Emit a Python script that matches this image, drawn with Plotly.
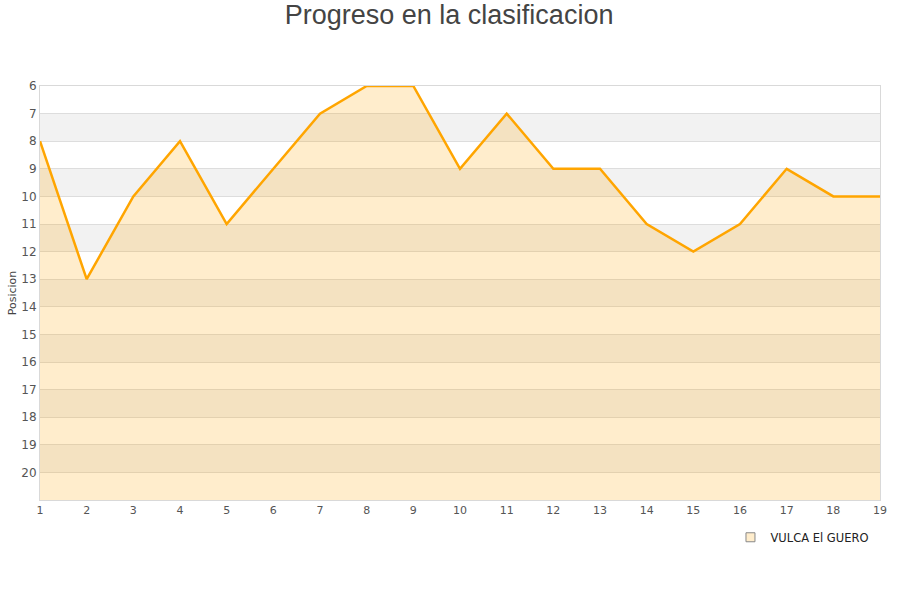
import plotly.graph_objects as go

jornadas = list(range(1, 20))
posiciones = [8, 13, 10, 8, 11, 9, 7, 6, 6, 9, 7, 9, 9, 11, 12, 11, 9, 10, 10]
equipo = "VULCA El GUERO"
y_ticks = list(range(6, 21))
y_bottom = 21
y_top = 6

fig = go.Figure()

# alternating bands
for v in range(7, 21, 2):
    fig.add_shape(type="rect", xref="paper", x0=0, x1=1, yref="y", y0=v, y1=v + 1,
                  fillcolor="#f2f2f2", line_width=0, layer="below")

fig.add_trace(go.Scatter(x=jornadas, y=[y_bottom] * len(jornadas), mode="lines",
                         line=dict(width=0), showlegend=False, hoverinfo="skip"))
fig.add_trace(go.Scatter(x=jornadas, y=posiciones, mode="lines", fill="tonexty",
                         fillcolor="rgba(255,165,0,0.2)",
                         line=dict(color="#ffa500", width=2.5), showlegend=False, name=equipo))
fig.add_trace(go.Scatter(x=[None], y=[None], mode="markers", name=equipo,
                         marker=dict(symbol="square", size=9, color="#ffedcc",
                                     line=dict(color="#888", width=1))))

fig.update_layout(
    width=900, height=600,
    paper_bgcolor="white", plot_bgcolor="white",
    margin=dict(l=40, r=20, t=86, b=100, autoexpand=False),
    title=dict(text="Progreso en la clasificacion", x=0.499, xanchor="center", y=0.975, yanchor="middle",
               font=dict(family="Liberation Sans, Arial, sans-serif", size=27, color="#444")),
    font=dict(family="DejaVu Sans, sans-serif", color="#555"),
    legend=dict(x=0.822, xanchor="left", y=-0.09, yanchor="middle", orientation="h",
                font=dict(size=11.5, color="#222"), bgcolor="rgba(0,0,0,0)"),
    xaxis=dict(range=[1, 19], tickvals=jornadas, showgrid=False, zeroline=False, automargin=False,
               showline=True, linecolor="#d9d9d9", mirror=True, tickfont=dict(size=11, color="#555"),
               ticks="", ticklen=0),
    yaxis=dict(range=[y_bottom, y_top], tickvals=y_ticks, showgrid=True, gridcolor="#dddddd",
               zeroline=False, showline=True, linecolor="#d9d9d9", mirror=True, automargin=False,
               tickfont=dict(size=12, color="#555"), ticks="",
               title=dict(text="Posicion", font=dict(size=11, color="#444"), standoff=2)),
)

fig.write_html("out.html", config={"displayModeBar": False},
               post_script="document.body.style.margin='0px';")
